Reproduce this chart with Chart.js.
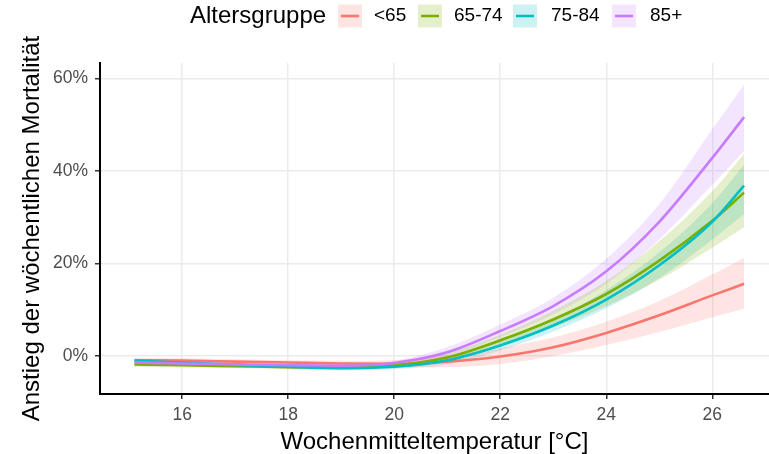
<!DOCTYPE html>
<html>
<head>
<meta charset="utf-8">
<script src="https://cdn.jsdelivr.net/npm/chart.js@4/dist/chart.umd.min.js"></script>
<style>
    body { margin: 0; background: #ffffff; }
    #wrap { width: 769px; height: 454px; }
</style>
</head>
<body>
<div id="wrap"><canvas id="myChart" width="769" height="454"></canvas></div>
<script>
// Temperaturstützstellen (°C)
const temps = [15.1, 16, 17, 18, 19, 20, 21, 22, 23, 24, 25, 26, 26.6];

// Anstieg der Mortalität in %, je Altersgruppe (Schätzer, untere/obere Grenze)
const u65 = [-0.9, -1.0, -1.2, -1.4, -1.6, -1.7, -1.2, -0.1, 1.9, 5.0, 8.8, 13.1, 15.6];
const u65Lo = [-1.4, -1.5, -1.7, -1.9, -2.2, -2.5, -2.4, -1.7, 0.0, 2.4, 5.2, 8.4, 10.2];
const u65Hi = [-0.4, -0.5, -0.7, -0.9, -1.0, -0.9, 0.2, 1.7, 4.0, 7.4, 11.9, 17.6, 21.2];

const a6574 = [-1.8, -2.0, -2.2, -2.4, -2.5, -2.0, -0.3, 3.4, 7.9, 13.4, 20.6, 29.2, 35.3];
const a6574Lo = [-2.3, -2.4, -2.6, -2.8, -2.9, -2.5, -1.3, 2.2, 6.2, 10.8, 16.5, 23.4, 27.8];
const a6574Hi = [-1.3, -1.6, -1.8, -2.0, -2.1, -1.5, 0.7, 4.6, 9.8, 16.2, 24.8, 35.6, 43.7];

const a7584 = [-1.0, -1.4, -1.9, -2.3, -2.6, -2.3, -0.9, 2.3, 6.6, 12.2, 19.6, 29.0, 36.8];
const a7584Lo = [-1.4, -1.8, -2.3, -2.7, -3.0, -2.8, -1.8, 1.2, 5.3, 10.3, 16.8, 25.2, 30.7];
const a7584Hi = [-0.6, -1.0, -1.5, -1.9, -2.2, -1.8, 0.0, 3.4, 7.9, 14.2, 22.4, 33.0, 41.3];

const a85 = [-1.4, -1.6, -1.8, -2.0, -2.1, -1.5, 0.8, 5.4, 10.8, 18.3, 29.0, 42.8, 51.6];
const a85Lo = [-1.9, -2.0, -2.2, -2.4, -2.5, -2.1, -0.2, 4.1, 9.0, 15.6, 25.2, 37.0, 44.3];
const a85Hi = [-0.9, -1.2, -1.4, -1.6, -1.7, -1.0, 1.9, 6.8, 12.6, 21.0, 32.8, 49.0, 58.6];

const groups = ['<65', '65-74', '75-84', '85+'];
const xTicks = [16, 18, 20, 22, 24, 26];
const yTicks = [0, 20, 40, 60];

const colors = ['248, 118, 109', '124, 174, 0', '0, 191, 196', '199, 124, 255'];
const series = [
    { mid: u65, lo: u65Lo, hi: u65Hi },
    { mid: a6574, lo: a6574Lo, hi: a6574Hi },
    { mid: a7584, lo: a7584Lo, hi: a7584Hi },
    { mid: a85, lo: a85Lo, hi: a85Hi }
];

const fontFamily = '"Liberation Sans", Arial, sans-serif';

function toPoints(values) {
    return values.map((v, i) => ({ x: temps[i], y: v }));
}

const datasets = [];
series.forEach((s, g) => {
    // Konfidenzband: obere Grenze füllt bis zur unteren (nächster Datensatz)
    datasets.push({
        label: groups[g] + ' hi',
        data: toPoints(s.hi),
        borderWidth: 0,
        pointRadius: 0,
        backgroundColor: 'rgba(' + colors[g] + ', 0.2)',
        fill: '+1',
        cubicInterpolationMode: 'monotone',
        order: 10
    });
    datasets.push({
        label: groups[g] + ' lo',
        data: toPoints(s.lo),
        borderWidth: 0,
        pointRadius: 0,
        fill: false,
        cubicInterpolationMode: 'monotone',
        order: 10
    });
});
series.forEach((s, g) => {
    datasets.push({
        label: groups[g],
        data: toPoints(s.mid),
        borderColor: 'rgb(' + colors[g] + ')',
        borderWidth: 2.6,
        pointRadius: 0,
        fill: false,
        cubicInterpolationMode: 'monotone',
        order: 4 - g
    });
});

// Legende im ggplot-Stil oben
const legendPlugin = {
    id: 'ggLegend',
    afterDraw(chart) {
        const ctx = chart.ctx;
        const midY = 16;
        const keyX = [338, 418, 513, 612];
        const labelX = [374, 454, 551, 650];
        ctx.save();
        ctx.textBaseline = 'middle';
        ctx.textAlign = 'left';
        ctx.fillStyle = '#000000';
        ctx.font = '24px ' + fontFamily;
        ctx.fillText('Altersgruppe', 190, midY);
        ctx.font = '19px ' + fontFamily;
        groups.forEach((name, g) => {
            ctx.fillStyle = 'rgba(' + colors[g] + ', 0.2)';
            ctx.fillRect(keyX[g], midY - 11.5, 24, 23);
            ctx.strokeStyle = 'rgb(' + colors[g] + ')';
            ctx.lineWidth = 2.6;
            ctx.beginPath();
            ctx.moveTo(keyX[g] + 3, midY);
            ctx.lineTo(keyX[g] + 21, midY);
            ctx.stroke();
            ctx.fillStyle = '#000000';
            ctx.fillText(name, labelX[g], midY);
        });
        ctx.restore();
    }
};

const ctx = document.getElementById('myChart').getContext('2d');

new Chart(ctx, {
    type: 'line',
    data: { datasets: datasets },
    plugins: [legendPlugin],
    options: {
        responsive: false,
        maintainAspectRatio: false,
        animation: false,
        devicePixelRatio: 1,
        layout: { padding: { top: 63, right: 0, left: 0, bottom: 0 } },
        plugins: {
            legend: { display: false },
            tooltip: { enabled: false }
        },
        scales: {
            x: {
                type: 'linear',
                min: 14.45,
                max: 27.07,
                afterBuildTicks: function(scale) {
                    scale.ticks = xTicks.map(v => ({ value: v }));
                },
                afterFit: function(scale) {
                    scale.height = 60;
                },
                grid: {
                    color: '#EBEBEB',
                    lineWidth: 1.5,
                    tickColor: '#333333',
                    tickLength: 5,
                    tickWidth: 1.5
                },
                border: { display: true, color: '#000000', width: 2 },
                ticks: {
                    color: '#4D4D4D',
                    font: { family: fontFamily, size: 17.5 },
                    padding: 6,
                    maxRotation: 0,
                    callback: function(value) {
                        return value;
                    }
                },
                title: {
                    display: true,
                    text: 'Wochenmitteltemperatur [°C]',
                    color: '#000000',
                    font: { family: fontFamily, size: 24, lineHeight: 1 },
                    padding: { top: 0, bottom: 0 }
                }
            },
            y: {
                type: 'linear',
                min: -8.2,
                max: 63.3,
                afterBuildTicks: function(scale) {
                    scale.ticks = yTicks.map(v => ({ value: v }));
                },
                afterFit: function(scale) {
                    scale.width = 100;
                },
                grid: {
                    color: '#EBEBEB',
                    lineWidth: 1.5,
                    tickColor: '#333333',
                    tickLength: 5,
                    tickWidth: 1.5
                },
                border: { display: true, color: '#000000', width: 2 },
                ticks: {
                    color: '#4D4D4D',
                    font: { family: fontFamily, size: 17.5 },
                    padding: 7,
                    callback: function(value) {
                        return value + '%';
                    }
                },
                title: {
                    display: true,
                    text: 'Anstieg der wöchentlichen Mortalität',
                    color: '#000000',
                    font: { family: fontFamily, size: 24, lineHeight: 1 },
                    padding: { top: 20, bottom: 0 }
                }
            }
        }
    }
});
</script>
</body>
</html>
